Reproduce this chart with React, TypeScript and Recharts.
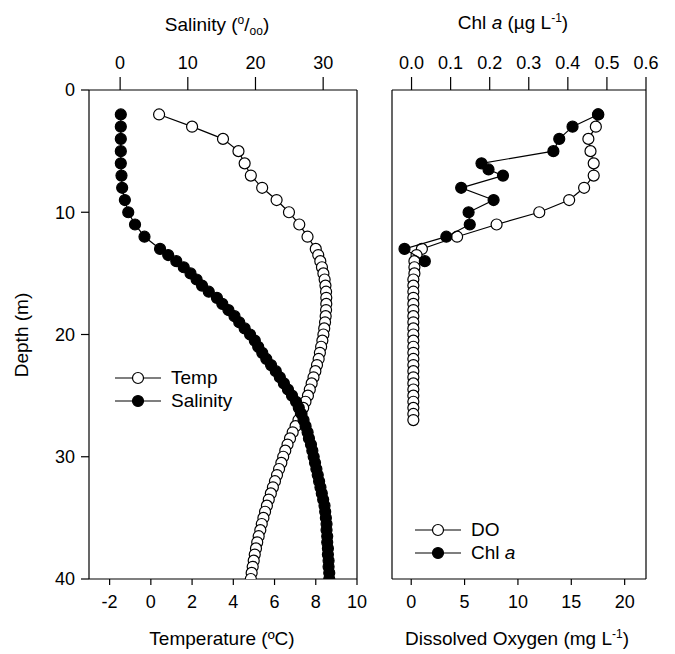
import React from 'react';
import {
  ScatterChart,
  Scatter,
  XAxis,
  YAxis,
  ReferenceLine,
  Legend,
} from 'recharts';

// depth (m) of each CTD sample
const profileDepth = [
  2, 3, 4, 5, 6, 7, 8, 9, 10, 11, 12, 13, 13.5, 14, 14.5, 15, 15.5, 16, 16.5, 17, 17.5, 18,
  18.5, 19, 19.5, 20, 20.5, 21, 21.5, 22, 22.5, 23, 23.5, 24, 24.5, 25, 25.5, 26, 26.5, 27,
  27.5, 28, 28.5, 29, 29.5, 30, 30.5, 31, 31.5, 32, 32.5, 33, 33.5, 34, 34.5, 35, 35.5, 36,
  36.5, 37, 37.5, 38, 38.5, 39, 39.5, 40,
];
const temperature = [
  0.4, 2.0, 3.5, 4.25, 4.55, 4.85, 5.4, 6.1, 6.7, 7.2, 7.6, 8.0, 8.12, 8.22, 8.3, 8.37, 8.43,
  8.47, 8.5, 8.51, 8.51, 8.5, 8.48, 8.45, 8.41, 8.37, 8.32, 8.26, 8.2, 8.14, 8.06, 7.98, 7.89,
  7.8, 7.71, 7.62, 7.5, 7.39, 7.28, 7.16, 7.02, 6.88, 6.75, 6.63, 6.52, 6.42, 6.33, 6.22, 6.12,
  6.02, 5.92, 5.82, 5.72, 5.63, 5.54, 5.46, 5.38, 5.31, 5.23, 5.16, 5.1, 5.04, 4.99, 4.94, 4.89,
  4.85,
];
const salinity = [
  0.1, 0.1, 0.1, 0.1, 0.1, 0.2, 0.3, 0.7, 1.2, 2.2, 3.6, 5.9, 7.1, 8.3, 9.4, 10.4, 11.3, 12.1,
  13.1, 14.3, 15.1, 16.0, 16.9, 17.6, 18.4, 19.2, 19.9, 20.4, 21.0, 21.6, 22.3, 23.0, 23.6,
  24.2, 24.8, 25.4, 26.0, 26.4, 26.8, 27.1, 27.4, 27.7, 27.9, 28.2, 28.4, 28.6, 28.8, 29.0,
  29.2, 29.4, 29.6, 29.8, 30.0, 30.2, 30.3, 30.4, 30.5, 30.5, 30.6, 30.6, 30.7, 30.7, 30.8,
  30.8, 30.9, 30.9,
];

const doDepth = [
  2, 3, 4, 5, 6, 7, 8, 9, 10, 11, 12, 13, 13.5, 14, 14.5, 15, 15.5, 16, 16.5, 17, 17.5, 18,
  18.5, 19, 19.5, 20, 20.5, 21, 21.5, 22, 22.5, 23, 23.5, 24, 24.5, 25, 25.5, 26, 26.5, 27,
];
const dissolvedOxygen = [
  17.5, 17.3, 16.6, 16.8, 17.1, 17.1, 16.2, 14.8, 12.0, 8.0, 4.3, 1.0, 0.5, 0.3, 0.3, 0.3, 0.2,
  0.2, 0.2, 0.2, 0.2, 0.2, 0.2, 0.2, 0.2, 0.2, 0.2, 0.2, 0.2, 0.2, 0.2, 0.2, 0.2, 0.2, 0.2,
  0.2, 0.2, 0.2, 0.2, 0.2,
];

const chlDepth = [2, 3, 4, 5, 6, 6.5, 7, 8, 9, 10, 11, 12, 13, 14];
const chlA = [0.478, 0.412, 0.378, 0.363, 0.179, 0.197, 0.234, 0.127, 0.21, 0.146, 0.149, 0.089, -0.018, 0.034];

const depthTicks = [0, 10, 20, 30, 40];
const tempTicks = [-2, 0, 2, 4, 6, 8, 10];
const salTicks = [0, 10, 20, 30];
const doTicks = [0, 5, 10, 15, 20];
const chlTicks = [0, 0.1, 0.2, 0.3, 0.4, 0.5, 0.6];

const tempData = profileDepth.map((depth, i) => ({ depth, temp: temperature[i] }));
const salData = profileDepth.map((depth, i) => ({ depth, sal: salinity[i] }));
const doData = doDepth.map((depth, i) => ({ depth, dox: dissolvedOxygen[i] }));
const chlData = chlDepth.map((depth, i) => ({ depth, chl: chlA[i] }));

const FONT = "'Liberation Sans', Arial, Helvetica, sans-serif";
const tickStyle = { fontSize: 18, fill: '#000', fontFamily: FONT };
const axisLine = { stroke: '#000', strokeWidth: 1.2 };

const OpenDot = (p: any) => <circle cx={p.cx} cy={p.cy} r={5.5} fill="#fff" stroke="#000" strokeWidth={1.2} />;
const FilledDot = (p: any) => <circle cx={p.cx} cy={p.cy} r={5.5} fill="#000" stroke="#000" strokeWidth={1.2} />;

const LegendBox = ({ items }: { items: { label: React.ReactNode; filled: boolean }[] }) => (
  <div style={{ fontFamily: FONT, fontSize: 19, color: '#000' }}>
    {items.map((it, i) => (
      <div key={i} style={{ display: 'flex', alignItems: 'center', height: 23 }}>
        <svg width={46} height={14}>
          <line x1={0} y1={7} x2={46} y2={7} stroke="#000" strokeWidth={1.2} />
          <circle cx={23} cy={7} r={5.5} fill={it.filled ? '#000' : '#fff'} stroke="#000" strokeWidth={1.2} />
        </svg>
        <span style={{ marginLeft: 10 }}>{it.label}</span>
      </div>
    ))}
  </div>
);

const Title = ({ x, y, children, rotate }: { x: number; y: number; children: React.ReactNode; rotate?: boolean }) => (
  <div
    style={{
      position: 'absolute',
      left: x - 150,
      top: y - 11,
      width: 300,
      height: 22,
      lineHeight: '22px',
      textAlign: 'center',
      fontFamily: FONT,
      fontSize: 19,
      color: '#000',
      whiteSpace: 'nowrap',
      transform: rotate ? 'rotate(-90deg)' : undefined,
    }}
  >
    {children}
  </div>
);

const small = { fontSize: 12, position: 'relative' as const };

export default function App() {
  return (
    <div style={{ position: 'absolute', left: 0, top: 0, width: 675, height: 654, background: '#fff', overflow: 'hidden' }}>
      <div style={{ position: 'absolute', left: 0, top: 0 }}>
        <ScatterChart width={370} height={654} margin={{ top: 40, right: 13, bottom: 25, left: 29 }}>
          <XAxis xAxisId="bottom" orientation="bottom" type="number" dataKey="temp" domain={[-3, 10]} ticks={tempTicks}
            allowDataOverflow height={50} tick={tickStyle} tickSize={6} tickMargin={10} axisLine={axisLine} tickLine={axisLine} />
          <XAxis xAxisId="top" orientation="top" type="number" dataKey="sal" domain={[-4.6, 35]} ticks={salTicks}
            allowDataOverflow height={50} tick={tickStyle} tickSize={13} tickMargin={8} axisLine={axisLine} tickLine={axisLine} />
          <YAxis type="number" dataKey="depth" reversed domain={[0, 40]} ticks={depthTicks} allowDataOverflow
            width={60} tick={tickStyle} tickSize={8} tickMargin={6} axisLine={axisLine} tickLine={axisLine} />
          <ReferenceLine xAxisId="bottom" x={10} stroke="#000" strokeWidth={1.2} />
          <Scatter name="Temp" xAxisId="bottom" data={tempData} line={{ stroke: '#000', strokeWidth: 1.2 }}
            shape={OpenDot} isAnimationActive={false} />
          <Scatter name="Salinity" xAxisId="top" data={salData} line={{ stroke: '#000', strokeWidth: 1.2 }}
            shape={FilledDot} isAnimationActive={false} />
          <Legend layout="vertical" align="center" verticalAlign="middle"
            wrapperStyle={{ left: 115, top: 366, width: 'auto' }}
            content={() => <LegendBox items={[{ label: 'Temp', filled: false }, { label: 'Salinity', filled: true }]} />} />
        </ScatterChart>
      </div>
      <div style={{ position: 'absolute', left: 360, top: 0 }}>
        <ScatterChart width={315} height={654} margin={{ top: 40, right: 29, bottom: 25, left: 12 }}>
          <XAxis xAxisId="bottom" orientation="bottom" type="number" dataKey="dox" domain={[-1.8, 22]} ticks={doTicks}
            allowDataOverflow height={50} tick={tickStyle} tickSize={6} tickMargin={10} axisLine={axisLine} tickLine={axisLine} />
          <XAxis xAxisId="top" orientation="top" type="number" dataKey="chl" domain={[-0.05, 0.6]} ticks={chlTicks}
            tickFormatter={(v: number) => v.toFixed(1)}
            allowDataOverflow height={50} tick={tickStyle} tickSize={13} tickMargin={8} axisLine={axisLine} tickLine={axisLine} />
          <YAxis type="number" dataKey="depth" reversed domain={[0, 40]} ticks={depthTicks} allowDataOverflow
            width={20} tick={false} tickLine={false} axisLine={axisLine} />
          <ReferenceLine xAxisId="bottom" x={22} stroke="#000" strokeWidth={1.2} />
          <Scatter name="DO" xAxisId="bottom" data={doData} line={{ stroke: '#000', strokeWidth: 1.2 }}
            shape={OpenDot} isAnimationActive={false} />
          <Scatter name="Chl a" xAxisId="top" data={chlData} line={{ stroke: '#000', strokeWidth: 1.2 }}
            shape={FilledDot} isAnimationActive={false} />
          <Legend layout="vertical" align="center" verticalAlign="middle"
            wrapperStyle={{ left: 55, top: 518, width: 'auto' }}
            content={() => (
              <LegendBox items={[{ label: 'DO', filled: false }, { label: <>Chl <i>a</i></>, filled: true }]} />
            )} />
        </ScatterChart>
      </div>

      <Title x={217} y={25}>
        Salinity (<span style={{ ...small, top: -7 }}>o</span>/<span style={{ ...small, top: 4 }}>oo</span>)
      </Title>
      <Title x={513} y={23}>
        Chl <i>a</i> (µg L<span style={{ ...small, top: -7 }}>-1</span>)
      </Title>
      <Title x={222} y={639}>Temperature (ºC)</Title>
      <Title x={517} y={639}>
        Dissolved Oxygen (mg L<span style={{ ...small, top: -7 }}>-1</span>)
      </Title>
      <Title x={22} y={335} rotate>Depth (m)</Title>
    </div>
  );
}
